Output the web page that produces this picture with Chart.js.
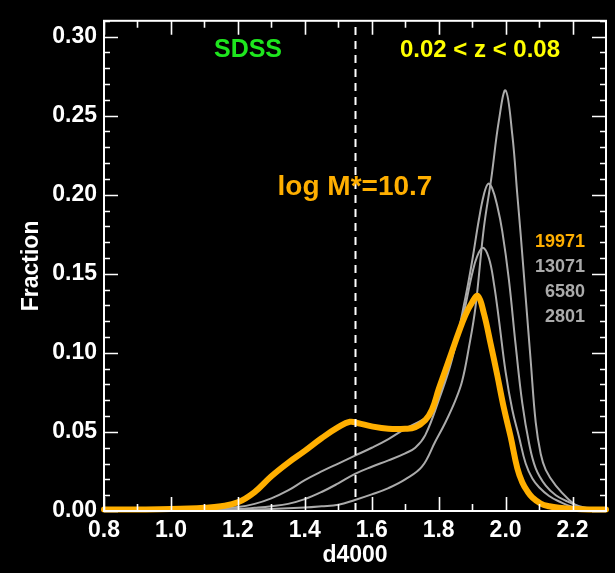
<!DOCTYPE html>
<html>
<head>
<meta charset="utf-8">
<script src="https://cdn.jsdelivr.net/npm/chart.js@4.4.1/dist/chart.umd.min.js"></script>
<style>
  html, body { margin: 0; padding: 0; background: #000; }
  #wrap { width: 615px; height: 573px; }
</style>
</head>
<body>
<div id="wrap"><canvas id="c" width="615" height="573"></canvas></div>
<script>
// D4000 distributions (fraction per bin) for SDSS galaxies, 0.02 < z < 0.08
// Highlighted sample: log M* = 10.7 (19971 galaxies)
const d4000_19971 = [0.80, 0.90, 1.00, 1.10, 1.15, 1.20, 1.25, 1.30, 1.35, 1.40, 1.45, 1.50, 1.535, 1.56, 1.60, 1.65, 1.70, 1.73, 1.76, 1.78, 1.80, 1.82, 1.84, 1.86, 1.88, 1.90, 1.917, 1.935, 1.955, 1.975, 1.995, 2.015, 2.035, 2.05, 2.065, 2.08, 2.105, 2.13, 2.16, 2.20, 2.25, 2.30];
const frac_19971  = [0.0010, 0.0010, 0.0012, 0.0020, 0.0030, 0.0055, 0.0120, 0.0220, 0.0305, 0.0380, 0.0460, 0.0530, 0.0564, 0.0555, 0.0535, 0.0520, 0.0520, 0.0530, 0.0575, 0.0640, 0.0770, 0.0890, 0.1010, 0.1130, 0.1240, 0.1320, 0.1360, 0.1250, 0.1060, 0.0860, 0.0650, 0.0470, 0.0270, 0.0180, 0.0125, 0.0085, 0.0047, 0.0030, 0.0020, 0.0014, 0.0010, 0.0010];

const d4000_13071 = [0.80, 0.90, 1.00, 1.10, 1.20, 1.25, 1.30, 1.35, 1.40, 1.45, 1.50, 1.55, 1.60, 1.65, 1.70, 1.75, 1.78, 1.80, 1.82, 1.84, 1.86, 1.88, 1.90, 1.915, 1.932, 1.95, 1.965, 1.98, 2.00, 2.02, 2.04, 2.06, 2.08, 2.10, 2.13, 2.16, 2.20, 2.25, 2.30];
const frac_13071  = [0.0000, 0.0002, 0.0005, 0.0010, 0.0025, 0.0045, 0.0080, 0.0130, 0.0195, 0.0250, 0.0300, 0.0350, 0.0400, 0.0455, 0.0520, 0.0575, 0.0620, 0.0720, 0.0850, 0.0980, 0.1120, 0.1300, 0.1500, 0.1610, 0.1665, 0.1600, 0.1440, 0.1210, 0.0880, 0.0640, 0.0470, 0.0300, 0.0205, 0.0150, 0.0095, 0.0060, 0.0025, 0.0010, 0.0005];

const d4000_6580 = [0.80, 0.90, 1.00, 1.10, 1.20, 1.25, 1.30, 1.35, 1.40, 1.45, 1.50, 1.55, 1.60, 1.65, 1.70, 1.73, 1.76, 1.80, 1.84, 1.88, 1.90, 1.92, 1.935, 1.948, 1.96, 1.975, 1.99, 2.01, 2.03, 2.05, 2.07, 2.09, 2.12, 2.15, 2.18, 2.22, 2.26, 2.30];
const frac_6580  = [0.0000, 0.0001, 0.0002, 0.0005, 0.0012, 0.0020, 0.0030, 0.0045, 0.0075, 0.0120, 0.0175, 0.0235, 0.0280, 0.0320, 0.0365, 0.0400, 0.0480, 0.0700, 0.0960, 0.1350, 0.1580, 0.1840, 0.2000, 0.2070, 0.2040, 0.1930, 0.1770, 0.1460, 0.1050, 0.0680, 0.0430, 0.0270, 0.0160, 0.0100, 0.0065, 0.0030, 0.0012, 0.0006];

const d4000_2801 = [0.80, 0.90, 1.00, 1.10, 1.20, 1.30, 1.40, 1.45, 1.50, 1.55, 1.60, 1.65, 1.70, 1.75, 1.79, 1.82, 1.85, 1.87, 1.89, 1.91, 1.935, 1.957, 1.98, 2.00, 2.02, 2.035, 2.045, 2.06, 2.075, 2.09, 2.105, 2.12, 2.15, 2.19, 2.22, 2.26, 2.30];
const frac_2801  = [0.0000, 0.0000, 0.0001, 0.0003, 0.0006, 0.0012, 0.0022, 0.0030, 0.0040, 0.0070, 0.0105, 0.0145, 0.0200, 0.0280, 0.0440, 0.0560, 0.0700, 0.0820, 0.1030, 0.1290, 0.1790, 0.2100, 0.2470, 0.2660, 0.2380, 0.2000, 0.1750, 0.1350, 0.0950, 0.0560, 0.0360, 0.0260, 0.0160, 0.0070, 0.0025, 0.0010, 0.0005];

const sampleCounts = ['19971', '13071', '6580', '2801'];
const xTickValues = [0.8, 1.0, 1.2, 1.4, 1.6, 1.8, 2.0, 2.2];
const yTickValues = [0.00, 0.05, 0.10, 0.15, 0.20, 0.25, 0.30];
const massCut = 1.55;

const ORANGE = '#ffaf00';
const GREY = '#ababab';
const FONT = '"Liberation Sans", Arial, Helvetica, sans-serif';

function pts(xs, ys) { return xs.map((x, i) => ({ x: x, y: ys[i] })); }

// Frame with inward major/minor ticks on all four sides, plus annotations
const framePlugin = {
  id: 'frame',
  afterDatasetsDraw(chart) {
    const { ctx, chartArea: a, scales: { x, y } } = chart;
    ctx.save();
    ctx.strokeStyle = '#ffffff';
    ctx.lineWidth = 2;
    ctx.strokeRect(a.left, a.top, a.right - a.left, a.bottom - a.top);
    ctx.lineWidth = 1.6;
    ctx.beginPath();
    for (let k = 8; k <= 22; k++) {
      const v = k / 10;
      const px = Math.round(x.getPixelForValue(v)) + 0.5;
      const len = (k % 2 === 0) ? 14 : 7;
      ctx.moveTo(px, a.bottom); ctx.lineTo(px, a.bottom - len);
      ctx.moveTo(px, a.top); ctx.lineTo(px, a.top + len);
    }
    for (let k = 0; k <= 31; k++) {
      const v = k / 100;
      const py = Math.round(y.getPixelForValue(v)) + 0.5;
      const len = (k % 5 === 0) ? 14 : 6;
      ctx.moveTo(a.left, py); ctx.lineTo(a.left + len, py);
      ctx.moveTo(a.right, py); ctx.lineTo(a.right - len, py);
    }
    ctx.stroke();

    // dashed marker at d4000 = 1.55
    const mx = Math.round(x.getPixelForValue(massCut)) + 0.5;
    ctx.setLineDash([8, 6]);
    ctx.lineWidth = 2;
    ctx.beginPath();
    ctx.moveTo(mx, a.bottom);
    ctx.lineTo(mx, a.top);
    ctx.stroke();
    ctx.setLineDash([]);

    // annotations
    ctx.textBaseline = 'middle';
    ctx.textAlign = 'center';
    ctx.font = 'bold 25px ' + FONT;
    ctx.fillStyle = '#1ee61e';
    ctx.fillText('SDSS', 248, 50);
    ctx.font = 'bold 24px ' + FONT;
    ctx.fillStyle = '#ffff00';
    ctx.fillText('0.02 < z < 0.08', 480, 50);
    ctx.font = 'bold 28px ' + FONT;
    ctx.fillStyle = ORANGE;
    ctx.fillText('log M*=10.7', 355, 187);

    ctx.textAlign = 'right';
    ctx.font = 'bold 18px ' + FONT;
    const rows = [242, 267, 292, 317];
    sampleCounts.forEach((s, i) => {
      ctx.fillStyle = i === 0 ? ORANGE : GREY;
      ctx.fillText(s, 585, rows[i]);
    });

    // axis titles
    ctx.fillStyle = '#ffffff';
    ctx.textAlign = 'center';
    ctx.font = 'bold 23px ' + FONT;
    ctx.fillText('d4000', (a.left + a.right) / 2, 556);
    ctx.save();
    ctx.translate(32, (a.top + a.bottom) / 2);
    ctx.rotate(-Math.PI / 2);
    ctx.fillText('Fraction', 0, 0);
    ctx.restore();
    ctx.restore();
  }
};

const bg = {
  id: 'bg',
  beforeDraw(chart) {
    const ctx = chart.ctx;
    ctx.save();
    ctx.fillStyle = '#000';
    ctx.fillRect(0, 0, chart.width, chart.height);
    ctx.restore();
  }
};

new Chart(document.getElementById('c'), {
  type: 'line',
  data: {
    datasets: [
      { label: sampleCounts[0], data: pts(d4000_19971, frac_19971), borderColor: ORANGE, borderWidth: 6 },
      { label: sampleCounts[1], data: pts(d4000_13071, frac_13071), borderColor: GREY, borderWidth: 2 },
      { label: sampleCounts[2], data: pts(d4000_6580, frac_6580), borderColor: GREY, borderWidth: 2 },
      { label: sampleCounts[3], data: pts(d4000_2801, frac_2801), borderColor: GREY, borderWidth: 2 }
    ].map(d => Object.assign(d, {
      pointRadius: 0, fill: false, tension: 0.4, clip: false,
      borderJoinStyle: 'round', borderCapStyle: 'round'
    }))
  },
  options: {
    responsive: false,
    animation: false,
    devicePixelRatio: 1,
    layout: { autoPadding: false, padding: { left: 0, top: 7, right: 9, bottom: 0 } },
    plugins: { legend: { display: false }, tooltip: { enabled: false } },
    scales: {
      x: {
        type: 'linear', min: 0.8, max: 2.3,
        grid: { display: false, drawTicks: false },
        border: { display: false },
        afterBuildTicks: s => { s.ticks = xTickValues.map(v => ({ value: v })); },
        afterFit: s => { s.height = 62; },
        ticks: {
          color: '#ffffff', padding: 6, maxRotation: 0, autoSkip: false,
          font: { family: FONT, size: 23, weight: 'bold' },
          callback: v => v.toFixed(1)
        }
      },
      y: {
        type: 'linear', min: 0, max: 0.31,
        grid: { display: false, drawTicks: false },
        border: { display: false },
        afterBuildTicks: s => { s.ticks = yTickValues.map(v => ({ value: v })); },
        afterFit: s => { s.width = 104; },
        ticks: {
          color: '#ffffff', padding: 7, autoSkip: false,
          font: { family: FONT, size: 23, weight: 'bold' },
          callback: v => v.toFixed(2)
        }
      }
    }
  },
  plugins: [bg, framePlugin]
});
</script>
</body>
</html>
